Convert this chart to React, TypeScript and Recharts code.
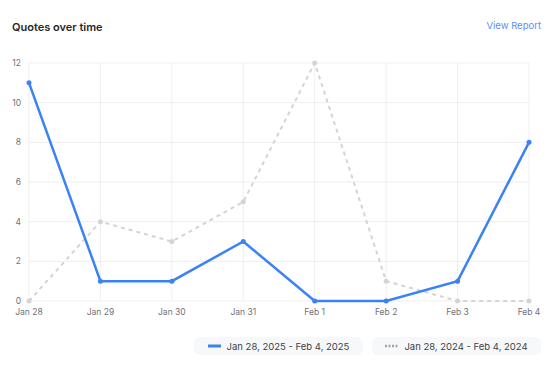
import { LineChart, Line, XAxis, YAxis, CartesianGrid } from 'recharts';

const days = ['Jan 28', 'Jan 29', 'Jan 30', 'Jan 31', 'Feb 1', 'Feb 2', 'Feb 3', 'Feb 4'];
const current = [11, 1, 1, 3, 0, 0, 1, 8];
const previous = [0, 4, 3, 5, 12, 1, 0, 0];
const yTicks = [0, 2, 4, 6, 8, 10, 12];

const currentLabel = 'Jan 28, 2025 - Feb 4, 2025';
const previousLabel = 'Jan 28, 2024 - Feb 4, 2024';

const BLUE = '#3b82f6';
const GREY = '#d4d4d8';

const data = days.map((d, i) => ({ day: d, current: current[i], previous: previous[i] }));

const font = 'Inter, "Noto Sans", sans-serif';

function LegendItem({ label, dashed }: { label: string; dashed?: boolean }) {
  return (
    <div
      style={{
        width: 169,
        height: 18,
        borderRadius: 6,
        background: '#f7f8fa',
        display: 'flex',
        alignItems: 'center',
        justifyContent: 'center',
        gap: 6,
        fontSize: 9.5,
        color: '#3f3f46',
      }}
    >
      <svg width={13} height={4}>
        <line
          x1={0}
          y1={2}
          x2={13}
          y2={2}
          stroke={dashed ? '#9ca3af' : BLUE}
          strokeWidth={dashed ? 2.5 : 3}
          strokeDasharray={dashed ? '2 1.5' : undefined}
        />
      </svg>
      <span>{label}</span>
    </div>
  );
}

export default function App() {
  return (
    <div
      style={{
        position: 'absolute',
        left: 0,
        top: 0,
        width: 550,
        height: 371,
        background: '#fff',
        fontFamily: font,
      }}
    >
      <div style={{ position: 'absolute', left: 12, top: 20, fontSize: 11, fontWeight: 600, color: '#27272a' }}>
        Quotes over time
      </div>
      <div style={{ position: 'absolute', right: 9, top: 20, fontSize: 9.5, color: '#5b8ff9' }}>View Report</div>

      <LineChart width={550} height={330} data={data} margin={{ top: 63, right: 21, bottom: 9, left: 0 }}>
        <CartesianGrid stroke="#efefef" />
        <XAxis
          dataKey="day"
          height={20}
          interval={0}
          tickSize={0}
          tickMargin={8}
          axisLine={false}
          tick={{ fontSize: 8.5, fill: '#71717a', fontFamily: font }}
        />
        <YAxis
          width={29}
          domain={[0, 12]}
          ticks={yTicks}
          tickSize={0}
          tickMargin={8}
          axisLine={false}
          tick={{ fontSize: 8.5, fill: '#71717a', fontFamily: font }}
        />
        <Line
          dataKey="previous"
          name={previousLabel}
          type="linear"
          stroke={GREY}
          strokeWidth={2}
          strokeDasharray="4 4"
          dot={{ r: 2.5, fill: GREY, stroke: GREY, strokeWidth: 0 }}
          isAnimationActive={false}
        />
        <Line
          dataKey="current"
          name={currentLabel}
          type="linear"
          stroke={BLUE}
          strokeWidth={2.5}
          dot={{ r: 2.5, fill: BLUE, stroke: BLUE, strokeWidth: 0 }}
          isAnimationActive={false}
        />
      </LineChart>

      <div style={{ position: 'absolute', left: 194, top: 337, display: 'flex', gap: 9 }}>
        <LegendItem label={currentLabel} />
        <LegendItem label={previousLabel} dashed />
      </div>
    </div>
  );
}
